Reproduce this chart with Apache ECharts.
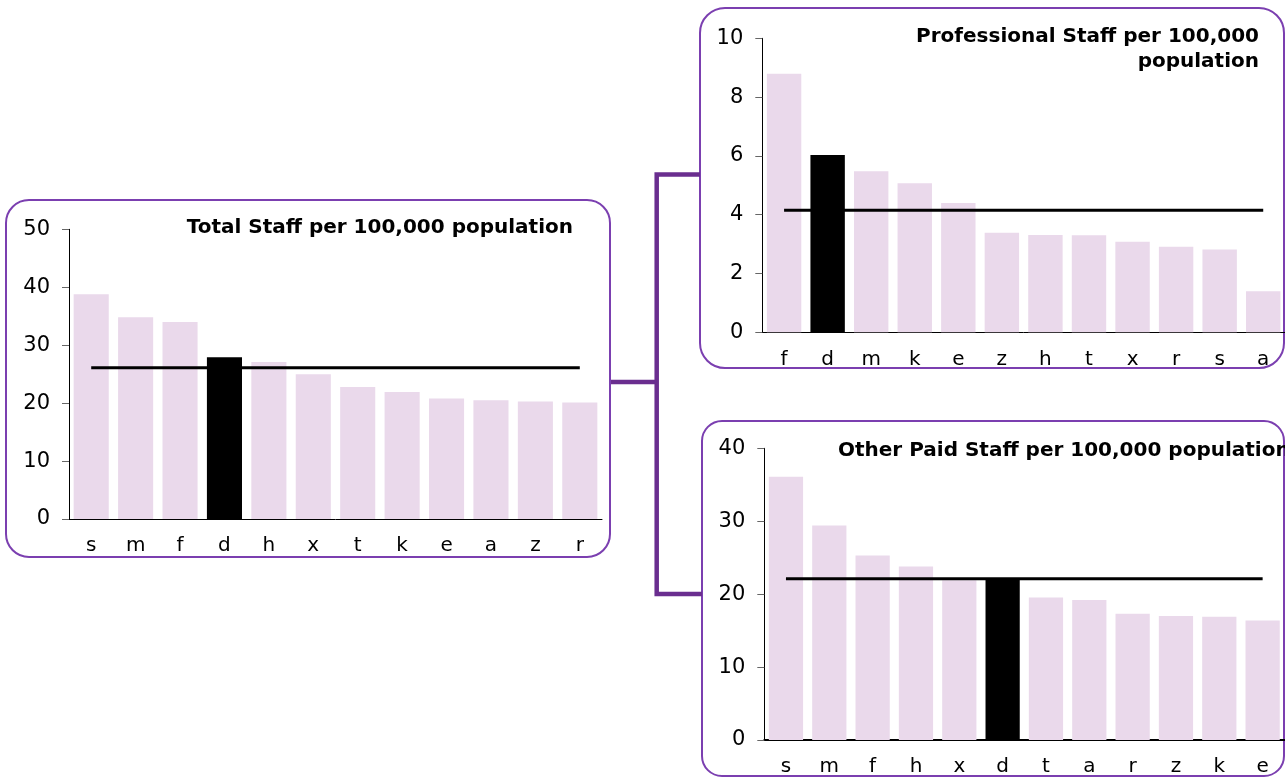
<!DOCTYPE html>
<html>
<head>
<meta charset="utf-8">
<script src="https://cdn.jsdelivr.net/npm/echarts@6/dist/echarts.min.js"></script>
<style>
  html, body { margin: 0; padding: 0; background: #ffffff; }
  #chart { width: 1285px; height: 777px; }
</style>
</head>
<body>
<div id="chart"></div>
<script>
// ---- Data ----
const totalCategories = ['s', 'm', 'f', 'd', 'h', 'x', 't', 'k', 'e', 'a', 'z', 'r'];
const totalValues = [38.8, 34.8, 34.0, 27.9, 27.1, 25.0, 22.8, 21.9, 20.8, 20.5, 20.3, 20.1];
const totalAverage = 26.1;

const profCategories = ['f', 'd', 'm', 'k', 'e', 'z', 'h', 't', 'x', 'r', 's', 'a'];
const profValues = [8.79, 6.03, 5.48, 5.07, 4.40, 3.39, 3.31, 3.30, 3.08, 2.91, 2.82, 1.40];
const profAverage = 4.15;

const otherCategories = ['s', 'm', 'f', 'h', 'x', 'd', 't', 'a', 'r', 'z', 'k', 'e'];
const otherValues = [36.1, 29.4, 25.3, 23.8, 21.9, 22.0, 19.55, 19.2, 17.3, 17.0, 16.9, 16.4];
const otherAverage = 22.1;

const highlightCategory = 'd';

const totalTitle = 'Total Staff per 100,000 population';
const profTitle = 'Professional Staff per 100,000\npopulation';
const otherTitle = 'Other Paid Staff per 100,000 population';

// ---- Styles ----
const FONT = 'DejaVu Sans';
const BAR_COLOR = '#EAD9EB';
const HIGHLIGHT_COLOR = '#000000';
const BOX_COLOR = '#7B3FB0';
const CONNECTOR_COLOR = '#6A2E8F';

function barData(cats, vals) {
  return vals.map((v, i) => ({
    value: v,
    itemStyle: { color: cats[i] === highlightCategory ? HIGHLIGHT_COLOR : BAR_COLOR }
  }));
}

function avgLine(cats, avg) {
  return [[cats[0], avg], [cats[cats.length - 1], avg]];
}

const grids = [
  { left: 69, top: 229.3, width: 533, height: 289.7 },
  { left: 762.3, top: 38.3, width: 526, height: 294 },
  { left: 764.3, top: 448.3, width: 520, height: 293.4 }
];

function xAxisFor(idx, cats, axisWidth) {
  return {
    type: 'category',
    gridIndex: idx,
    data: cats,
    axisLine: { lineStyle: { color: '#000', width: axisWidth } },
    axisTick: { show: false },
    axisLabel: { fontFamily: FONT, fontSize: 20, color: '#000', margin: 17 }
  };
}

function yAxisFor(idx, max, interval) {
  return {
    type: 'value',
    gridIndex: idx,
    min: 0,
    max: max,
    interval: interval,
    splitLine: { show: false },
    axisLine: { show: true, lineStyle: { color: '#000', width: 1 } },
    axisTick: { show: true, length: 7, lineStyle: { color: '#666' } },
    axisLabel: { fontFamily: FONT, fontSize: 21, color: '#000', margin: 19 }
  };
}

function barSeries(idx, cats, vals) {
  return {
    type: 'bar',
    xAxisIndex: idx,
    yAxisIndex: idx,
    data: barData(cats, vals),
    barCategoryGap: '21%',
    silent: true,
    z: 2
  };
}

function lineSeries(idx, cats, avg) {
  return {
    type: 'line',
    xAxisIndex: idx,
    yAxisIndex: idx,
    data: avgLine(cats, avg),
    symbol: 'none',
    lineStyle: { color: '#000', width: 3 },
    silent: true,
    z: 3
  };
}

const titleStyle = { fontFamily: FONT, fontSize: 20, fontWeight: 'bold', color: '#000', lineHeight: 25 };

const option = {
  animation: false,
  backgroundColor: '#ffffff',
  title: [
    { text: totalTitle, left: 573, top: 215, textAlign: 'right', textStyle: titleStyle, padding: 0 },
    { text: profTitle, left: 1259, top: 24, textAlign: 'right', textStyle: Object.assign({}, titleStyle, { align: 'right' }), padding: 0 },
    { text: otherTitle, left: 838, top: 438, textStyle: titleStyle, padding: 0 }
  ],
  grid: grids,
  xAxis: [
    xAxisFor(0, totalCategories, 1),
    xAxisFor(1, profCategories, 1),
    xAxisFor(2, otherCategories, 2)
  ],
  yAxis: [
    yAxisFor(0, 50, 10),
    yAxisFor(1, 10, 2),
    yAxisFor(2, 40, 10)
  ],
  series: [
    barSeries(0, totalCategories, totalValues),
    lineSeries(0, totalCategories, totalAverage),
    barSeries(1, profCategories, profValues),
    lineSeries(1, profCategories, profAverage),
    barSeries(2, otherCategories, otherValues),
    lineSeries(2, otherCategories, otherAverage)
  ],
  graphic: [
    { type: 'rect', shape: { x: 6, y: 200, width: 604, height: 357, r: 23 }, style: { fill: null, stroke: BOX_COLOR, lineWidth: 2 }, z: 0 },
    { type: 'rect', shape: { x: 700, y: 8, width: 584, height: 360, r: 25 }, style: { fill: null, stroke: BOX_COLOR, lineWidth: 2 }, z: 0 },
    { type: 'rect', shape: { x: 702, y: 421, width: 582, height: 355, r: 20 }, style: { fill: null, stroke: BOX_COLOR, lineWidth: 2 }, z: 0 },
    { type: 'polyline', shape: { points: [[700, 174.5], [656.7, 174.5], [656.7, 594], [702, 594]] }, style: { fill: null, stroke: CONNECTOR_COLOR, lineWidth: 4.5 }, z: 0 },
    { type: 'line', shape: { x1: 611, y1: 382, x2: 656.7, y2: 382 }, style: { stroke: CONNECTOR_COLOR, lineWidth: 4.5 }, z: 0 }
  ]
};

const chart = echarts.init(document.getElementById('chart'), null, { renderer: 'canvas' });
chart.setOption(option);
</script>
</body>
</html>
